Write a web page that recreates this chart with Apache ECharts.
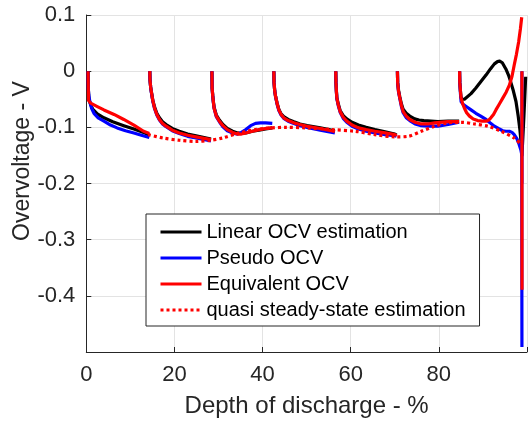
<!DOCTYPE html>
<html>
<head>
<meta charset="utf-8">
<script src="https://cdn.jsdelivr.net/npm/echarts@6/dist/echarts.min.js"></script>
<style>html,body{margin:0;padding:0;background:#fff;}#c{width:530px;height:423px;}</style>
</head>
<body>
<div id="c"></div>
<script>
const seriesNames = ['Linear OCV estimation', 'Pseudo OCV', 'Equivalent OCV', 'quasi steady-state estimation'];
const xTickLabels = [0, 20, 40, 60, 80];
const yTickLabels = [0.1, 0, -0.1, -0.2, -0.3, -0.4];

const linearOCV = [
  [[0.4,0],[0.45,-0.03],[0.6,-0.05],[1.0,-0.060],[1.5,-0.068],[2.5,-0.076],[4,-0.083],[6,-0.090],[8.5,-0.097],[10.8,-0.103],[13,-0.109],[14.3,-0.114]],
  [[14.4,0],[14.45,-0.015],[14.6,-0.028],[14.75,-0.036],[15.1,-0.052],[15.5,-0.064],[16.0,-0.075],[16.6,-0.083],[17.3,-0.090],[18.1,-0.095],[19.5,-0.102],[21.1,-0.107],[23,-0.112],[24.9,-0.115],[28.3,-0.121]],
  [[28.5,0],[28.55,-0.03],[28.7,-0.044],[28.85,-0.055],[29.0,-0.064],[29.5,-0.078],[30.2,-0.087],[31.0,-0.095],[32.0,-0.102],[33.2,-0.107],[34.3,-0.110],[35.2,-0.111],[36.2,-0.110],[37.7,-0.107],[39.2,-0.105],[40.7,-0.103],[42.2,-0.101]],
  [[42.55,0],[42.6,-0.02],[42.75,-0.035],[42.95,-0.045],[43.3,-0.057],[43.7,-0.068],[44.2,-0.076],[44.8,-0.081],[45.8,-0.086],[47.1,-0.090],[48.5,-0.094],[50.1,-0.097],[53.1,-0.101],[56.4,-0.106]],
  [[56.6,0],[56.65,-0.02],[56.75,-0.035],[56.85,-0.047],[57.2,-0.059],[57.6,-0.070],[58.3,-0.079],[59.1,-0.085],[60.3,-0.091],[61.75,-0.096],[63.5,-0.100],[65.5,-0.104],[67.8,-0.108],[70.0,-0.112],[70.4,-0.114]],
  [[70.6,0],[70.65,-0.02],[70.85,-0.034],[71.15,-0.046],[71.5,-0.058],[71.9,-0.068],[72.6,-0.075],[73.4,-0.080],[74.5,-0.085],[75.5,-0.087],[76.6,-0.088],[79.8,-0.090],[82.1,-0.089],[84.6,-0.089]],
  [[84.7,0],[84.75,-0.02],[84.9,-0.035],[85.0,-0.045],[85.2,-0.050],[85.4,-0.051],[85.8,-0.050],[86.2,-0.048],[87.3,-0.040],[88.4,-0.030],[89.5,-0.019],[90.7,-0.007],[91.7,0.004],[92.6,0.013],[93.3,0.017],[93.8,0.018],[94.4,0.015],[95.2,0.004],[95.8,-0.007],[96.3,-0.019],[96.9,-0.035],[97.5,-0.054],[98.0,-0.080],[98.4,-0.105],[98.7,-0.13],[98.85,-0.15],[99.3,-0.08],[99.7,-0.01]]
];
const pseudoOCV = [
  [[0.4,0],[0.45,-0.03],[0.55,-0.042],[0.8,-0.054],[1.2,-0.066],[1.74,-0.075],[2.7,-0.083],[4.0,-0.089],[5.5,-0.096],[7.0,-0.101],[8.9,-0.106],[10.8,-0.110],[12.5,-0.114],[14.3,-0.118]],
  [[14.4,0],[14.45,-0.015],[14.6,-0.029],[14.75,-0.037],[15.1,-0.054],[15.5,-0.067],[16.0,-0.078],[16.6,-0.087],[17.3,-0.094],[18.1,-0.099],[19.5,-0.106],[21.1,-0.111],[23,-0.116],[24.9,-0.119],[28.3,-0.124]],
  [[28.5,0],[28.55,-0.03],[28.7,-0.046],[28.85,-0.057],[29.0,-0.066],[29.5,-0.081],[30.2,-0.090],[31.0,-0.099],[32.0,-0.106],[33.2,-0.110],[34.3,-0.112],[35.2,-0.109],[36.2,-0.104],[37.3,-0.097],[38.4,-0.093],[39.5,-0.092],[40.7,-0.092],[42.2,-0.093]],
  [[42.55,0],[42.6,-0.02],[42.75,-0.035],[42.95,-0.045],[43.3,-0.059],[43.7,-0.070],[44.2,-0.078],[44.8,-0.084],[45.8,-0.089],[47.1,-0.093],[48.5,-0.097],[50.1,-0.100],[53.1,-0.105],[56.4,-0.110]],
  [[56.6,0],[56.65,-0.02],[56.75,-0.037],[56.85,-0.049],[57.2,-0.062],[57.6,-0.073],[58.3,-0.084],[59.1,-0.091],[60.3,-0.098],[61.75,-0.103],[63.5,-0.107],[65.5,-0.110],[67.8,-0.113],[70.0,-0.115],[70.4,-0.116]],
  [[70.6,0],[70.65,-0.02],[70.85,-0.037],[71.15,-0.049],[71.5,-0.063],[71.9,-0.074],[72.6,-0.083],[73.4,-0.088],[74.6,-0.094],[76.0,-0.097],[77.5,-0.098],[79.8,-0.098],[82.1,-0.095],[84.6,-0.091]],
  [[84.7,0],[84.75,-0.02],[84.9,-0.04],[85.05,-0.054],[85.5,-0.059],[86.2,-0.063],[87.3,-0.069],[88.4,-0.075],[89.5,-0.080],[90.7,-0.086],[91.6,-0.092],[92.6,-0.098],[93.5,-0.102],[94.5,-0.106],[95.2,-0.107],[96.0,-0.107],[96.6,-0.109],[97.1,-0.113],[97.7,-0.120],[98.2,-0.130],[98.6,-0.140],[98.8,-0.148],[98.85,-0.491]],
  [[98.85,0],[98.87,-0.2]]
];
const equivalentOCV = [
  [[0.4,0],[0.45,-0.03],[0.5,-0.052],[1.0,-0.057],[2.5,-0.063],[4.0,-0.069],[6.3,-0.077],[8.5,-0.086],[10.8,-0.096],[13.0,-0.107],[14.3,-0.111]],
  [[14.4,0],[14.45,-0.015],[14.6,-0.028],[14.75,-0.036],[15.1,-0.053],[15.5,-0.066],[16.0,-0.077],[16.6,-0.086],[17.3,-0.093],[18.1,-0.098],[19.5,-0.105],[21.1,-0.110],[23,-0.114],[24.9,-0.117],[28.3,-0.122]],
  [[28.5,0],[28.55,-0.03],[28.7,-0.045],[28.85,-0.056],[29.0,-0.066],[29.5,-0.080],[30.2,-0.089],[31.0,-0.097],[32.0,-0.104],[33.2,-0.109],[34.3,-0.112],[35.2,-0.112],[36.2,-0.110],[37.7,-0.107],[39.2,-0.104],[40.7,-0.102],[42.2,-0.101]],
  [[42.55,0],[42.6,-0.02],[42.75,-0.035],[42.95,-0.045],[43.3,-0.058],[43.7,-0.069],[44.2,-0.077],[44.8,-0.083],[45.8,-0.088],[47.1,-0.092],[48.5,-0.095],[50.1,-0.098],[53.1,-0.102],[56.1,-0.107],[56.4,-0.108]],
  [[56.6,0],[56.65,-0.02],[56.75,-0.036],[56.85,-0.048],[57.2,-0.061],[57.6,-0.072],[58.3,-0.082],[59.1,-0.089],[60.3,-0.096],[61.75,-0.101],[63.5,-0.104],[65.5,-0.107],[67.8,-0.110],[70.0,-0.113],[70.4,-0.115]],
  [[70.6,0],[70.65,-0.02],[70.85,-0.036],[71.15,-0.048],[71.5,-0.061],[71.9,-0.072],[72.6,-0.080],[73.4,-0.086],[74.6,-0.091],[76.0,-0.094],[77.5,-0.094],[79.05,-0.092],[82.05,-0.090],[84.6,-0.090]],
  [[84.7,0],[84.75,-0.02],[84.9,-0.036],[85.05,-0.048],[85.4,-0.058],[85.8,-0.066],[86.3,-0.074],[86.95,-0.080],[87.8,-0.085],[88.8,-0.088],[89.8,-0.089],[90.7,-0.089],[91.3,-0.087],[91.8,-0.083],[92.4,-0.077],[92.95,-0.069],[93.7,-0.059],[94.5,-0.048],[95.3,-0.037],[96.0,-0.025],[96.6,-0.009],[97.1,0.011],[97.6,0.030],[98.1,0.052],[98.5,0.075],[98.8,0.096]],
  [[98.85,0],[98.87,-0.389]]
];
const quasiSteadyState = [
  [[14.0,-0.113],[17.4,-0.119],[21.1,-0.123],[24.9,-0.125],[28.3,-0.123],[30.9,-0.119],[34.7,-0.110],[38.4,-0.104],[42.2,-0.101],[45.2,-0.100],[49.7,-0.101],[55.7,-0.104],[61.0,-0.107],[65.5,-0.113],[70.0,-0.117],[73.0,-0.116],[76.0,-0.107],[79.05,-0.098],[82.05,-0.092],[85.05,-0.091],[88.1,-0.094],[91.1,-0.098],[94.1,-0.107],[97.1,-0.119],[98.6,-0.130]]
];

function joinSegments(segs) {
  const out = [];
  segs.forEach((s, i) => { if (i > 0) out.push('-'); s.forEach(p => out.push(p)); });
  return out;
}

const FONT = "'Liberation Sans', Arial, sans-serif";
const AX = '#262626';
const chart = echarts.init(document.getElementById('c'), null, { renderer: 'canvas' });

function mkSeries(name, segs, color, dash, smooth) {
  return {
    name: name, type: 'line', data: joinSegments(segs), symbol: 'none', showSymbol: false,
    smooth: smooth || false, connectNulls: false, animation: false,
    lineStyle: { color: color, width: 3.2, type: dash || 'solid', cap: 'butt', join: 'round' },
    itemStyle: { color: color }
  };
}

chart.setOption({
  animation: false,
  backgroundColor: '#fff',
  grid: { left: 86.3, top: 15, width: 443.3, height: 340, containLabel: false },
  xAxis: {
    type: 'value', min: 0, max: 100, interval: 20,
    name: 'Depth of discharge - %', nameLocation: 'middle', nameGap: 42,
    nameTextStyle: { fontFamily: FONT, fontSize: 24, color: AX },
    axisLine: { show: true, onZero: false, lineStyle: { color: AX, width: 1 } },
    axisTick: { show: true, inside: true, length: 5, lineStyle: { color: AX } },
    axisLabel: { margin: 12, fontFamily: FONT, fontSize: 22, color: AX,
      formatter: v => xTickLabels.indexOf(Math.round(v)) >= 0 && Math.abs(v - Math.round(v)) < 1e-6 ? String(Math.round(v)) : '' },
    splitLine: { show: true, lineStyle: { color: '#e3e3e3', width: 1 } }
  },
  yAxis: {
    type: 'value', min: -0.5, max: 0.1, interval: 0.1,
    axisLine: { show: true, onZero: false, lineStyle: { color: AX, width: 1 } },
    axisTick: { show: true, inside: true, length: 5, lineStyle: { color: AX } },
    axisLabel: { margin: 11, fontFamily: FONT, fontSize: 22, color: AX,
      formatter: v => { const r = Math.round(v * 10) / 10; return yTickLabels.indexOf(r) >= 0 ? String(r) : ''; } },
    splitLine: { show: true, lineStyle: { color: '#e3e3e3', width: 1 } }
  },
  legend: {
    orient: 'vertical', left: 146, top: 214,
    padding: [5, 14, 3, 13], itemGap: 0, itemWidth: 41, itemHeight: 14,
    backgroundColor: '#fff', borderColor: AX, borderWidth: 1,
    itemStyle: { opacity: 0 },
    lineStyle: { width: 3 },
    textStyle: { fontFamily: FONT, fontSize: 20, color: '#000', lineHeight: 26 },
    data: seriesNames
  },
  graphic: [{
    type: 'text', x: 23, y: 161, rotation: Math.PI / 2,
    style: { text: 'Overvoltage - V', fontFamily: FONT, fontSize: 23, fill: AX, align: 'center', verticalAlign: 'middle' }
  }],
  series: [
    mkSeries(seriesNames[0], linearOCV, '#000000'),
    mkSeries(seriesNames[1], pseudoOCV, '#0000ff'),
    mkSeries(seriesNames[2], equivalentOCV, '#ff0000'),
    mkSeries(seriesNames[3], quasiSteadyState, '#ff0000', [3, 3], 0.3)
  ]
});
</script>
</body>
</html>
